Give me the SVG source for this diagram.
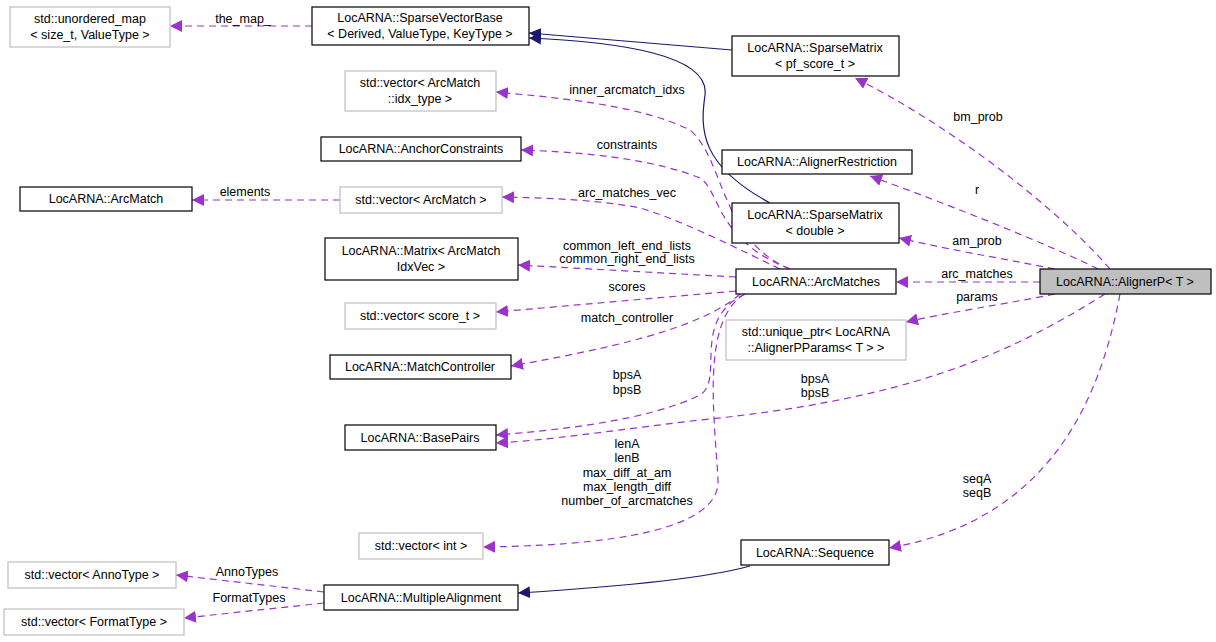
<svg xmlns="http://www.w3.org/2000/svg" width="1216" height="642" viewBox="0 0 1216 642">
<defs>
<marker id="pa" viewBox="0 0 10 10" refX="10" refY="5" markerWidth="12" markerHeight="12" markerUnits="userSpaceOnUse" orient="auto"><path d="M0,0L10,5L0,10z" fill="#9a32cd"/></marker>
<marker id="na" viewBox="0 0 10 10" refX="10" refY="5" markerWidth="12" markerHeight="12" markerUnits="userSpaceOnUse" orient="auto"><path d="M0,0L10,5L0,10z" fill="#191970"/></marker>
<style>
text{font-family:"Liberation Sans",Arial,sans-serif;font-size:12.5px;fill:#000;text-anchor:middle}
.n rect{fill:#fff;stroke:#000;stroke-width:1.2}
.g rect{fill:#fff;stroke:#bfbfbf;stroke-width:1.2}
.d{fill:none;stroke:#9a32cd;stroke-width:1.2;stroke-dasharray:7,5;marker-end:url(#pa)}
.s{fill:none;stroke:#191970;stroke-width:1.2;marker-end:url(#na)}
</style>
</defs>
<rect width="1216" height="642" fill="#fff"/>
<g id="connectors">
<path class="s" d="M732,50L529,33"/>
<path class="s" d="M770,203C700,165 700,130 705,95C710,55 620,42 529,38"/>
<path class="s" d="M750,566C700,580 600,588 518,593"/>
<path class="d" d="M312,26L170,26"/><text x="243" y="23">the_map_</text>
<path class="d" d="M790,269C720,240 725,160 690,130C640,105 560,98 496,92"/><text x="627" y="94">inner_arcmatch_idxs</text>
<path class="d" d="M790,269C715,240 720,190 700,178C650,158 580,152 521,150"/><text x="627" y="149">constraints</text>
<path class="d" d="M780,269C720,240 680,220 640,208C600,200 550,198 502,197"/><text x="627" y="197">arc_matches_vec</text>
<text x="627" y="250">common_left_end_lists</text><text x="627" y="263">common_right_end_lists</text>
<path class="d" d="M736,277L518,265"/>
<path class="d" d="M736,291L496,312"/><text x="627" y="291">scores</text>
<path class="d" d="M740,294C700,330 600,350 511,366"/><text x="627" y="322">match_controller</text>
<path class="d" d="M745,294C690,320 725,380 700,395C650,420 560,430 496,435"/><text x="627" y="379">bpsA</text><text x="627" y="394">bpsB</text>
<path class="d" d="M745,294C700,320 715,420 718,480C720,520 650,545 483,547"/>
<text x="627" y="448">lenA</text><text x="627" y="462">lenB</text><text x="627" y="477">max_diff_at_am</text><text x="627" y="491">max_length_diff</text><text x="627" y="505">number_of_arcmatches</text>
<path class="d" d="M340,200L192,200"/><text x="245" y="196">elements</text>
<path class="d" d="M1110,269C1050,200 940,120 855,78"/><text x="978" y="121">bm_prob</text>
<path class="d" d="M1098,269C1050,245 950,205 870,176"/><text x="977" y="194">r</text>
<path class="d" d="M1055,269C1000,258 950,250 899,238"/><text x="977" y="245">am_prob</text>
<path class="d" d="M1040,282L896,282"/><text x="977" y="278">arc_matches</text>
<path class="d" d="M1055,294C1000,305 950,312 906,322"/><text x="977" y="301">params</text>
<path class="d" d="M1105,294C1000,360 900,400 700,420C600,432 550,440 496,443"/><text x="815" y="383">bpsA</text><text x="815" y="397">bpsB</text>
<path class="d" d="M1120,294C1100,400 1050,520 889,548"/><text x="977" y="483">seqA</text><text x="977" y="497">seqB</text>
<path class="d" d="M324,592L176,575"/><text x="247" y="576">AnnoTypes</text>
<path class="d" d="M324,603L184,618"/><text x="249" y="602">FormatTypes</text>
</g>
<g id="umap" class="g"><rect x="10" y="7" width="160" height="40"/><text x="90" y="23">std::unordered_map</text><text x="90" y="39">&lt; size_t, ValueType &gt;</text></g>
<g id="svb" class="n"><rect x="312" y="7" width="217" height="38"/><text x="420" y="22">LocARNA::SparseVectorBase</text><text x="420" y="38">&lt; Derived, ValueType, KeyType &gt;</text></g>
<g id="smpf" class="n"><rect x="732" y="36" width="167" height="40"/><text x="815" y="52">LocARNA::SparseMatrix</text><text x="815" y="68">&lt; pf_score_t &gt;</text></g>
<g id="vidx" class="g"><rect x="345" y="71" width="151" height="40"/><text x="420" y="87">std::vector&lt; ArcMatch</text><text x="420" y="103">::idx_type &gt;</text></g>
<g id="anchor" class="n"><rect x="321" y="137" width="200" height="24"/><text x="421" y="153">LocARNA::AnchorConstraints</text></g>
<g id="restr" class="n"><rect x="722" y="150" width="190" height="24"/><text x="817" y="166">LocARNA::AlignerRestriction</text></g>
<g id="arcmatch" class="n"><rect x="20" y="187" width="172" height="24"/><text x="106" y="203">LocARNA::ArcMatch</text></g>
<g id="vam" class="g"><rect x="340" y="187" width="162" height="26"/><text x="421" y="204">std::vector&lt; ArcMatch &gt;</text></g>
<g id="smd" class="n"><rect x="732" y="203" width="167" height="40"/><text x="815" y="219">LocARNA::SparseMatrix</text><text x="815" y="235">&lt; double &gt;</text></g>
<g id="matrix" class="n"><rect x="325" y="238" width="193" height="42"/><text x="421" y="255">LocARNA::Matrix&lt; ArcMatch</text><text x="421" y="271">IdxVec &gt;</text></g>
<g id="arcmatches" class="n"><rect x="736" y="269" width="160" height="25"/><text x="816" y="286">LocARNA::ArcMatches</text></g>
<g id="alignerp"><rect x="1040" y="269" width="171" height="25" fill="#bfbfbf" stroke="#000" stroke-width="1.2"/><text x="1125" y="286">LocARNA::AlignerP&lt; T &gt;</text></g>
<g id="vscore" class="g"><rect x="345" y="303" width="151" height="26"/><text x="420" y="320">std::vector&lt; score_t &gt;</text></g>
<g id="uptr" class="g"><rect x="726" y="320" width="180" height="40"/><text x="816" y="336">std::unique_ptr&lt; LocARNA</text><text x="816" y="352">::AlignerPParams&lt; T &gt; &gt;</text></g>
<g id="mc" class="n"><rect x="330" y="355" width="181" height="24"/><text x="420" y="371">LocARNA::MatchController</text></g>
<g id="bp" class="n"><rect x="345" y="425" width="151" height="25"/><text x="420" y="442">LocARNA::BasePairs</text></g>
<g id="vint" class="g"><rect x="359" y="533" width="124" height="26"/><text x="421" y="550">std::vector&lt; int &gt;</text></g>
<g id="seq" class="n"><rect x="741" y="540" width="148" height="25"/><text x="815" y="557">LocARNA::Sequence</text></g>
<g id="vanno" class="g"><rect x="8" y="562" width="168" height="26"/><text x="92" y="579">std::vector&lt; AnnoType &gt;</text></g>
<g id="ma" class="n"><rect x="324" y="585" width="194" height="25"/><text x="421" y="602">LocARNA::MultipleAlignment</text></g>
<g id="vfmt" class="g"><rect x="4" y="609" width="180" height="26"/><text x="94" y="626">std::vector&lt; FormatType &gt;</text></g>
</svg>
